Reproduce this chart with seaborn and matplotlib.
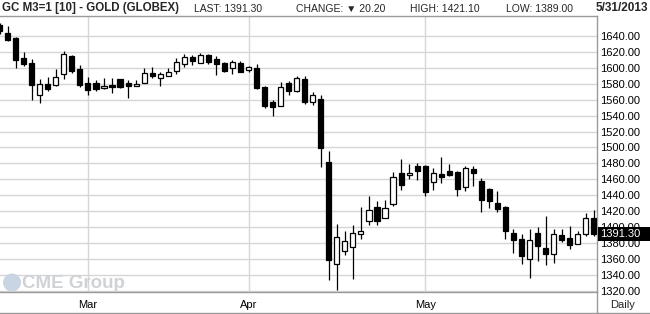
import matplotlib
matplotlib.use("Agg")
import matplotlib.pyplot as plt
from matplotlib.lines import Line2D
from matplotlib.patches import Ellipse, Rectangle
import numpy as np
import pandas as pd
import seaborn as sns

# ---- data ----
opens = [1654, 1643.75, 1637.9, 1612.5, 1605.8, 1565.8, 1579.6, 1577.9, 1592.1, 1615.0,
         1598.3, 1580.8, 1580.8, 1574.2, 1578.75, 1585.8, 1580.4, 1577.1, 1580.8, 1593.75,
         1587.1, 1589.6, 1595.8, 1604.2, 1613.3, 1605.8, 1615.8, 1610.8, 1605.8, 1599.6,
         1605.8, 1597.1, 1599.6, 1575.8, 1557.5, 1551.7, 1580.8, 1570.5, 1585.4, 1557.5,
         1560.4, 1481.7, 1353.75, 1369.6, 1374.6, 1391.25, 1407.5, 1425.4, 1411.25, 1428.5,
         1467.5, 1465.0, 1476.7, 1476.7, 1456.25, 1466.7, 1470.0, 1468.75, 1450.0, 1472.5,
         1457.5, 1447.5, 1430.2, 1425.0, 1392.5, 1385.0, 1360.0, 1392.5, 1373.75, 1366.25,
         1390.0, 1386.25, 1378.75, 1391.25, 1411.5]
highs = [1656, 1652.5, 1638.5, 1620.0, 1611.25, 1585.8, 1588.75, 1598.3, 1621.25, 1616.25,
         1603.75, 1588.75, 1584.6, 1587.5, 1587.5, 1586.5, 1584.6, 1584.6, 1600.0, 1601.25,
         1594.6, 1599.6, 1612.1, 1617.1, 1616.25, 1618.3, 1617.1, 1614.6, 1607.1, 1609.6,
         1608.3, 1602.1, 1604.6, 1577.1, 1560.0, 1582.1, 1583.3, 1590.0, 1589.2, 1569.2,
         1565.4, 1495.8, 1404.2, 1395.0, 1402.9, 1425.4, 1439.2, 1432.5, 1434.0, 1469.0,
         1485.4, 1479.2, 1480.0, 1477.5, 1473.75, 1487.9, 1479.2, 1470.0, 1476.25, 1476.7,
         1461.25, 1448.75, 1445.2, 1427.0, 1397.5, 1391.7, 1397.5, 1400.0, 1414.2, 1397.5,
         1397.5, 1401.25, 1395.0, 1417.5, 1421.1]
lows = [1643, 1633.75, 1599.6, 1602.5, 1559.2, 1555.8, 1570.4, 1576.7, 1585.4, 1593.3,
        1575.4, 1565.4, 1570.4, 1572.9, 1567.9, 1575.0, 1561.7, 1576.9, 1580.6, 1587.1,
        1576.7, 1589.4, 1591.7, 1600.8, 1602.9, 1605.6, 1604.2, 1590.8, 1594.6, 1592.1,
        1594.4, 1594.6, 1572.9, 1549.2, 1539.2, 1551.5, 1565.8, 1569.3, 1554.6, 1553.3,
        1475.8, 1334.2, 1320.8, 1364.6, 1334.6, 1384.6, 1403.3, 1403.3, 1411.0, 1426.0,
        1447.1, 1460.8, 1459.6, 1439.6, 1447.1, 1455.0, 1464.2, 1439.6, 1445.8, 1452.1,
        1418.75, 1424.6, 1419.6, 1385.4, 1367.1, 1353.3, 1335.8, 1357.9, 1352.5, 1355.0,
        1380.8, 1372.1, 1378.5, 1388.75, 1389.0]
closes = [1646, 1635.0, 1609.6, 1604.2, 1577.9, 1579.6, 1572.9, 1587.9, 1617.1, 1595.4,
          1577.9, 1572.1, 1573.3, 1577.1, 1575.4, 1575.4, 1576.7, 1580.0, 1593.3, 1589.6,
          1592.5, 1594.6, 1606.7, 1613.3, 1607.9, 1615.8, 1606.7, 1604.2, 1595.8, 1607.1,
          1594.6, 1600.8, 1574.2, 1551.7, 1550.4, 1575.8, 1570.8, 1587.5, 1556.7, 1565.4,
          1499.6, 1359.2, 1387.5, 1382.5, 1392.5, 1395.0, 1421.25, 1407.5, 1423.75, 1462.5,
          1452.3, 1467.5, 1470.8, 1444.6, 1467.5, 1462.5, 1465.8, 1447.5, 1473.75, 1467.5,
          1434.6, 1432.5, 1423.3, 1394.6, 1384.2, 1363.75, 1383.75, 1375.8, 1366.25, 1391.25,
          1384.2, 1377.5, 1391.25, 1411.5, 1391.3]
month_labels = ["Mar", "Apr", "May"]
month_first_index = [11, 31, 53]
price_ticks = list(range(1320, 1641, 20))
title = "GC M3=1 [10] - GOLD (GLOBEX)"
last_price = 1391.30
change = 20.20
day_high = 1421.10
day_low = 1389.00
date_label = "5/31/2013"

df = pd.DataFrame({"open": opens, "high": highs, "low": lows, "close": closes})
df["idx"] = np.arange(len(df))
df["up"] = df["close"] >= df["open"]

sns.set_style("white")
plt.rcParams["font.family"] = ["Liberation Sans", "DejaVu Sans"]

W, H = 650, 314
fig = plt.figure(figsize=(6.5, 3.14), dpi=100)
ax_right_px, ax_top_px, ax_bot_px = 597, 16, 292
ax = fig.add_axes([0, (H - ax_bot_px) / H, ax_right_px / W, (ax_bot_px - ax_top_px) / H])

grid_c = "#d6d6d6"
axis_c = "#9a9a9a"

# gridlines
for p in price_ticks:
    ax.axhline(p, color=grid_c, lw=1.0, zorder=0)
for m in month_first_index:
    ax.axvline(m, color=grid_c, lw=1.0, zorder=0)

# wicks
ax.vlines(df["idx"], df["low"], df["high"], color="black", lw=0.9, zorder=2)
# bodies
body_w = 0.64
bottoms = np.minimum(df["open"], df["close"])
heights = np.maximum(np.abs(df["close"] - df["open"]), 0.8)
colors = np.where(df["up"], "white", "black")
ax.bar(df["idx"], heights, bottom=bottoms, width=body_w, color=colors,
       edgecolor="black", linewidth=0.9, zorder=3)

ax.set_xlim(0.05, 74.4)
ax.set_ylim(1318.6, 1665)

ax.spines["left"].set_visible(False)
for s in ["top", "right", "bottom"]:
    ax.spines[s].set_color(axis_c)
    ax.spines[s].set_linewidth(1.0)

ax.yaxis.tick_right()
ax.set_yticks(price_ticks)
ax.set_yticklabels([f"{p:.2f}" for p in price_ticks])
ax.tick_params(axis="y", length=0, pad=2.5, labelsize=8, colors="black")
ax.set_xticks(month_first_index)
ax.set_xticklabels(month_labels)
ax.tick_params(axis="x", length=0, pad=5.5, labelsize=8, colors="black")


def fx(px):
    return px / W


def fy(py):
    return 1 - py / H


# last price box (price -> pixel via the axes transform)
_, y_disp = ax.transData.transform((0, last_price))
y_frac = y_disp / fig.bbox.height
box_h = 14 / H
fig.add_artist(Rectangle((fx(598), y_frac - box_h / 2), fx(52), box_h, transform=fig.transFigure,
                         facecolor="black", edgecolor="none", zorder=10))
fig.text(fx(600), y_frac, f"{last_price:.2f}", ha="left", va="center", fontsize=8,
         color="white", zorder=11)

fig.add_artist(Line2D([fx(597), fx(597)], [fy(292), fy(314)], color=axis_c, lw=1.0))
fig.add_artist(Line2D([0, 1], [fy(313), fy(313)], color=axis_c, lw=1.0))
fig.text(fx(623), fy(305), "Daily", ha="center", va="center", fontsize=8)

# header
fig.text(fx(2), fy(8), title, ha="left", va="center", fontsize=8.3, fontweight="bold")
fig.text(fx(194), fy(8.5), f"LAST: {last_price:.2f}", ha="left", va="center", fontsize=7.5)
fig.text(fx(296), fy(8.5), f"CHANGE: \u25bc {change:.2f}", ha="left", va="center", fontsize=7.5,
         family=["Liberation Sans", "DejaVu Sans"])
fig.text(fx(410), fy(8.5), f"HIGH: {day_high:.2f}", ha="left", va="center", fontsize=7.5)
fig.text(fx(506), fy(8.5), f"LOW: {day_low:.2f}", ha="left", va="center", fontsize=7.5)
fig.text(fx(648), fy(8), date_label, ha="right", va="center", fontsize=8.5, fontweight="bold")

# watermark
fig.add_artist(Ellipse((fx(12), fy(282.5)), width=fx(18), height=18 / H, transform=fig.transFigure,
                       facecolor="#c9d5e2", edgecolor="none", zorder=1))
fig.text(fx(22), fy(283), "CME Group", ha="left", va="center", fontsize=13.5, fontweight="bold",
         color="#cfd2d6", zorder=1)

fig.savefig("out.png", dpi=100)
